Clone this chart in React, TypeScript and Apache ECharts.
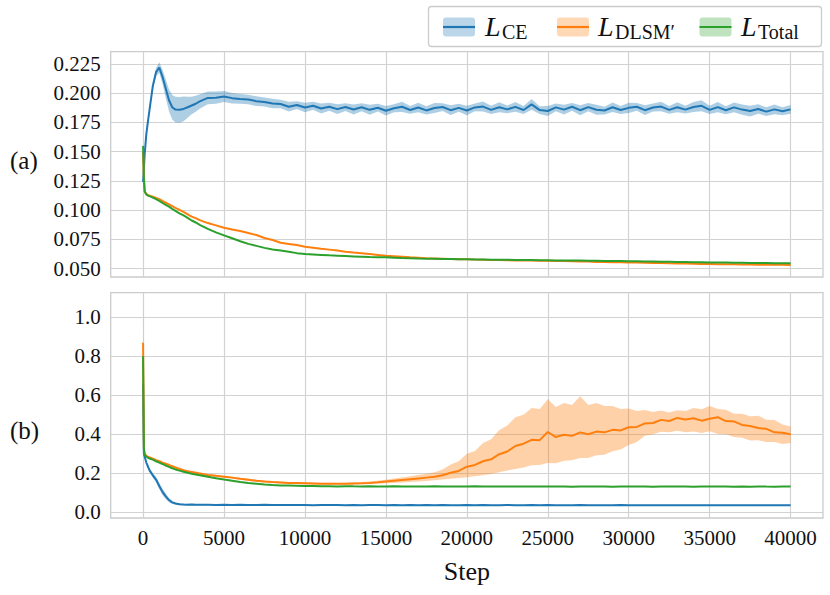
import React, { useEffect, useRef } from "react";
import * as echarts from "echarts";

// Training step of every sample
const STEPS = [
  0, 50, 100, 200, 300, 400, 600, 800, 1000, 1200,
  1400, 1600, 1800, 2000, 2250, 2500, 2750, 3000, 3250, 3500,
  3750, 4000, 4500, 5000, 5500, 6000, 6500, 7000, 7500, 8000,
  8500, 9000, 9500, 10000, 10500, 11000, 11500, 12000, 12500, 13000,
  13500, 14000, 14500, 15000, 15500, 16000, 16500, 17000, 17500, 18000,
  18500, 19000, 19500, 20000, 20500, 21000, 21500, 22000, 22500, 23000,
  23500, 24000, 24500, 25000, 25500, 26000, 26500, 27000, 27500, 28000,
  28500, 29000, 29500, 30000, 30500, 31000, 31500, 32000, 32500, 33000,
  33500, 34000, 34500, 35000, 35500, 36000, 36500, 37000, 37500, 38000,
  38500, 39000, 39500, 40000,
];

// (a) L_CE mean and half band width
const CE_TOP = [
  0.124, 0.135, 0.148, 0.165, 0.176, 0.186, 0.206, 0.218, 0.222, 0.214,
  0.204, 0.194, 0.188, 0.186, 0.1858, 0.1866, 0.188, 0.1895, 0.191, 0.193,
  0.1945, 0.196, 0.1962, 0.1972, 0.1958, 0.1951, 0.1946, 0.1932, 0.1925, 0.1912,
  0.1908, 0.1885, 0.1899, 0.1878, 0.1893, 0.187, 0.1885, 0.1864, 0.1882, 0.1861,
  0.188, 0.1858, 0.1876, 0.185, 0.1872, 0.1884, 0.1857, 0.1878, 0.1853, 0.1874,
  0.1882, 0.1855, 0.1875, 0.1852, 0.1879, 0.1886, 0.1858, 0.188, 0.1862, 0.1883,
  0.1857, 0.1905, 0.1856, 0.1848, 0.1879, 0.186, 0.1884, 0.1855, 0.1881, 0.1859,
  0.1852, 0.188, 0.1857, 0.1875, 0.1884, 0.1855, 0.1878, 0.1886, 0.1858, 0.188,
  0.186, 0.1882, 0.1892, 0.1858, 0.1881, 0.1855, 0.1879, 0.186, 0.1848, 0.1865,
  0.1843, 0.1862, 0.1846, 0.1862,
];
const CE_TOP_SPREAD = [
  0.002, 0.002, 0.002, 0.002, 0.0025, 0.003, 0.003, 0.0035, 0.0045, 0.006,
  0.008, 0.0095, 0.0105, 0.011, 0.011, 0.0105, 0.009, 0.0075, 0.0068, 0.0062,
  0.0058, 0.0055, 0.0052, 0.0048, 0.0045, 0.0042, 0.004, 0.0042, 0.0038, 0.004,
  0.0036, 0.0042, 0.0033, 0.004, 0.0035, 0.0043, 0.0034, 0.0041, 0.0033, 0.0042,
  0.0034, 0.0043, 0.0033, 0.0041, 0.0034, 0.0044, 0.0033, 0.0041, 0.0035, 0.0043,
  0.0033, 0.0042, 0.0034, 0.0041, 0.0033, 0.0043, 0.0035, 0.0042, 0.0033, 0.0041,
  0.0034, 0.0046, 0.0033, 0.0042, 0.0034, 0.0041, 0.0033, 0.0043, 0.0035, 0.0042,
  0.0033, 0.0041, 0.0034, 0.0043, 0.0033, 0.0042, 0.0035, 0.0041, 0.0033, 0.0043,
  0.0034, 0.0042, 0.0047, 0.0035, 0.0043, 0.0034, 0.0041, 0.0044, 0.0046, 0.004,
  0.0037, 0.0042, 0.0035, 0.0038,
];
// (a) L_DLSM' mean
const DLSM_TOP = [
  0.150, 0.128, 0.116, 0.114, 0.113, 0.1125, 0.1115, 0.1105, 0.1095, 0.108,
  0.1065, 0.105, 0.1035, 0.102, 0.1002, 0.0985, 0.0965, 0.0945, 0.0932, 0.0915,
  0.0902, 0.089, 0.087, 0.085, 0.0835, 0.0822, 0.0805, 0.0788, 0.0762, 0.0745,
  0.0722, 0.0712, 0.0702, 0.0688, 0.068, 0.067, 0.0663, 0.0655, 0.0645, 0.0638,
  0.0632, 0.0625, 0.0618, 0.061, 0.0606, 0.0602, 0.0597, 0.0594, 0.0589, 0.0587,
  0.0585, 0.0583, 0.0581, 0.058, 0.0578, 0.0577, 0.0575, 0.0574, 0.0572, 0.0571,
  0.057, 0.0569, 0.0568, 0.0568, 0.0566, 0.0565, 0.0564, 0.0562, 0.0561, 0.0558,
  0.0557, 0.0556, 0.0555, 0.0554, 0.0552, 0.0551, 0.0549, 0.0548, 0.0546, 0.0545,
  0.0544, 0.0542, 0.0541, 0.054, 0.0539, 0.0538, 0.0537, 0.0536, 0.0535, 0.0534,
  0.0535, 0.0533, 0.0534, 0.0532,
];
// (a) L_Total mean
const TOTAL_TOP = [
  0.155, 0.127, 0.116, 0.1135, 0.1125, 0.112, 0.1108, 0.1095, 0.108, 0.1062,
  0.1046, 0.103, 0.1012, 0.0995, 0.0973, 0.0955, 0.0935, 0.0912, 0.0895, 0.0875,
  0.0858, 0.084, 0.081, 0.0785, 0.076, 0.0735, 0.0712, 0.0695, 0.0678, 0.0665,
  0.0655, 0.0645, 0.0633, 0.0626, 0.0622, 0.0618, 0.0614, 0.0611, 0.0608, 0.0605,
  0.0602, 0.0599, 0.0598, 0.0597, 0.0594, 0.0591, 0.059, 0.0587, 0.0585, 0.0584,
  0.0583, 0.0582, 0.0581, 0.058, 0.0579, 0.0578, 0.0577, 0.0576, 0.0576, 0.0575,
  0.0574, 0.0574, 0.0573, 0.0572, 0.0571, 0.0571, 0.057, 0.0569, 0.0568, 0.0567,
  0.0566, 0.0566, 0.0565, 0.0564, 0.0563, 0.0562, 0.0561, 0.056, 0.0559, 0.0558,
  0.0557, 0.0556, 0.0555, 0.0554, 0.0553, 0.0552, 0.0551, 0.055, 0.0549, 0.0549,
  0.0548, 0.0547, 0.0546, 0.0546,
];

// (b) L_CE mean and (early) half band width
const CE_BOT = [
  0.66, 0.30, 0.285, 0.255, 0.235, 0.215, 0.19, 0.168, 0.135, 0.105,
  0.082, 0.063, 0.051, 0.045, 0.041, 0.040, 0.0395, 0.040, 0.0388, 0.0392,
  0.0385, 0.039, 0.0382, 0.0388, 0.0378, 0.0385, 0.0376, 0.0382, 0.0388, 0.0375,
  0.0381, 0.0372, 0.0379, 0.0375, 0.0368, 0.0376, 0.0372, 0.0378, 0.0369, 0.0374,
  0.0368, 0.0375, 0.0371, 0.0366, 0.0373, 0.0369, 0.0375, 0.0368, 0.0372, 0.0366,
  0.0374, 0.0369, 0.0365, 0.0371, 0.0367, 0.0373, 0.0366, 0.037, 0.0375, 0.0368,
  0.0364, 0.0371, 0.0367, 0.0373, 0.0362, 0.0368, 0.0365, 0.0371, 0.0366, 0.0363,
  0.0369, 0.0365, 0.0371, 0.0364, 0.0368, 0.0362, 0.0367, 0.0364, 0.037, 0.0365,
  0.0361, 0.0367, 0.0363, 0.0369, 0.0364, 0.036, 0.0366, 0.0362, 0.0368, 0.0363,
  0.0359, 0.0365, 0.0361, 0.0362,
];
const CE_BOT_SPREAD = [
  0.01, 0.012, 0.006, 0.006, 0.008, 0.01, 0.012, 0.014, 0.016, 0.016,
  0.014, 0.011, 0.007, 0.005, 0.004, 0.004, 0.004, 0.004, 0.004, 0.004,
  0.004, 0.004,
];
// (b) L_DLSM' mean, band low and band high
const DLSM_BOT = [
  0.87, 0.33, 0.30, 0.29, 0.285, 0.281, 0.275, 0.268, 0.262, 0.255,
  0.249, 0.243, 0.236, 0.23, 0.223, 0.216, 0.211, 0.207, 0.203, 0.199,
  0.195, 0.192, 0.187, 0.183, 0.178, 0.172, 0.167, 0.162, 0.158, 0.155,
  0.153, 0.151, 0.150, 0.149, 0.148, 0.147, 0.147, 0.146, 0.147, 0.148,
  0.149, 0.151, 0.154, 0.158, 0.162, 0.166, 0.17, 0.174, 0.178, 0.182,
  0.19, 0.203, 0.212, 0.234, 0.243, 0.262, 0.272, 0.298, 0.312, 0.34,
  0.352, 0.372, 0.37, 0.412, 0.386, 0.398, 0.392, 0.41, 0.4, 0.414,
  0.41, 0.423, 0.42, 0.436, 0.438, 0.456, 0.458, 0.474, 0.468, 0.484,
  0.476, 0.482, 0.47, 0.48, 0.488, 0.468, 0.466, 0.448, 0.443, 0.432,
  0.428, 0.41, 0.408, 0.40,
];
const DLSM_BOT_LO = [
  0.68, 0.31, 0.292, 0.284, 0.28, 0.276, 0.27, 0.263, 0.257, 0.25,
  0.244, 0.238, 0.231, 0.225, 0.218, 0.211, 0.206, 0.202, 0.198, 0.194,
  0.19, 0.187, 0.182, 0.178, 0.173, 0.167, 0.162, 0.157, 0.153, 0.15,
  0.148, 0.146, 0.145, 0.144, 0.143, 0.142, 0.142, 0.141, 0.142, 0.143,
  0.144, 0.145, 0.147, 0.149, 0.151, 0.153, 0.155, 0.158, 0.161, 0.165,
  0.168, 0.172, 0.176, 0.18, 0.185, 0.19, 0.197, 0.205, 0.215, 0.222,
  0.23, 0.241, 0.243, 0.253, 0.252, 0.265, 0.267, 0.278, 0.279, 0.293,
  0.295, 0.313, 0.322, 0.345, 0.36, 0.393, 0.4, 0.413, 0.41, 0.418,
  0.41, 0.415, 0.407, 0.416, 0.402, 0.4, 0.386, 0.382, 0.368, 0.37,
  0.36, 0.36, 0.35, 0.356,
];
const DLSM_BOT_HI = [
  1.07, 0.35, 0.308, 0.296, 0.29, 0.286, 0.28, 0.273, 0.267, 0.26,
  0.254, 0.248, 0.241, 0.235, 0.228, 0.221, 0.216, 0.212, 0.208, 0.204,
  0.2, 0.197, 0.192, 0.188, 0.183, 0.177, 0.172, 0.167, 0.163, 0.16,
  0.158, 0.156, 0.155, 0.154, 0.153, 0.152, 0.152, 0.151, 0.152, 0.153,
  0.155, 0.158, 0.162, 0.167, 0.173, 0.179, 0.185, 0.191, 0.198, 0.205,
  0.22, 0.245, 0.262, 0.3, 0.315, 0.356, 0.375, 0.422, 0.445, 0.488,
  0.5, 0.535, 0.53, 0.58, 0.54, 0.56, 0.55, 0.595, 0.55, 0.56,
  0.545, 0.545, 0.53, 0.532, 0.52, 0.525, 0.515, 0.522, 0.512, 0.524,
  0.52, 0.535, 0.528, 0.545, 0.53, 0.526, 0.505, 0.505, 0.492, 0.495,
  0.475, 0.473, 0.45, 0.44,
];
// (b) L_Total mean
const TOTAL_BOT = [
  0.80, 0.32, 0.295, 0.285, 0.28, 0.276, 0.27, 0.262, 0.255, 0.248,
  0.24, 0.233, 0.226, 0.22, 0.214, 0.208, 0.203, 0.198, 0.194, 0.19,
  0.186, 0.182, 0.175, 0.168, 0.162, 0.156, 0.151, 0.147, 0.143, 0.14,
  0.138, 0.137, 0.136, 0.135, 0.1345, 0.134, 0.1335, 0.133, 0.1338, 0.1332,
  0.1328, 0.1335, 0.133, 0.1325, 0.1334, 0.1328, 0.1322, 0.1331, 0.1326, 0.1333,
  0.1327, 0.1321, 0.133, 0.1325, 0.1332, 0.1326, 0.132, 0.1329, 0.1324, 0.1331,
  0.1325, 0.1319, 0.1328, 0.1323, 0.133, 0.1324, 0.1318, 0.1327, 0.1322, 0.1329,
  0.1323, 0.1317, 0.1326, 0.1321, 0.1328, 0.1322, 0.1316, 0.1325, 0.132, 0.1327,
  0.1321, 0.1315, 0.1324, 0.1319, 0.1326, 0.132, 0.1314, 0.1323, 0.1318, 0.1325,
  0.1319, 0.1316, 0.1322, 0.132,
];

const X_TICKS = [0, 5000, 10000, 15000, 20000, 25000, 30000, 35000, 40000];
const TOP_Y_TICKS = [0.05, 0.075, 0.1, 0.125, 0.15, 0.175, 0.2, 0.225];
const BOT_Y_TICKS = [0, 0.2, 0.4, 0.6, 0.8, 1.0];

const LEGEND = [
  { main: "L", sub: "CE", color: "#1f77b4" },
  { main: "L", sub: "DLSM\u2032", color: "#ff7f0e" },
  { main: "L", sub: "Total", color: "#2ca02c" },
];

const BLUE = "#1f77b4";
const ORANGE = "#ff7f0e";
const GREEN = "#2ca02c";
const SERIF = "Liberation Serif";
const GRID_COLOR = "#d2d2d2";

const pairs = (ys: number[]) => ys.map((y, i) => [STEPS[i], y]);

function band(lo: number[], hi: number[], color: string, axis: number) {
  const data = lo.map((l, i) => [STEPS[i], l, hi[i]]);
  return {
    type: "custom",
    xAxisIndex: axis,
    yAxisIndex: axis,
    silent: true,
    z: 1,
    data,
    encode: { x: 0, y: [1, 2] },
    renderItem: (params: any, api: any) => {
      if (params.dataIndex !== 0) return null;
      const pts: number[][] = [];
      for (let i = 0; i < data.length; i++) pts.push(api.coord([data[i][0], data[i][2]]));
      for (let i = data.length - 1; i >= 0; i--) pts.push(api.coord([data[i][0], data[i][1]]));
      return {
        type: "polygon",
        shape: { points: pts },
        style: { fill: color, opacity: 0.36 },
      };
    },
  };
}

function line(ys: number[], color: string, axis: number) {
  return {
    type: "line",
    xAxisIndex: axis,
    yAxisIndex: axis,
    data: pairs(ys),
    symbol: "none",
    showSymbol: false,
    z: 3,
    lineStyle: { color, width: 2 },
    itemStyle: { color },
  };
}

function xAxis(grid: number, labels: boolean) {
  return {
    type: "value",
    gridIndex: grid,
    min: -2000,
    max: 42000,
    axisLine: { show: false },
    axisTick: { show: false, customValues: X_TICKS },
    axisLabel: {
      show: labels,
      customValues: X_TICKS,
      formatter: (v: number) => String(v),
      fontFamily: SERIF,
      fontSize: 21,
      color: "#111",
      margin: 9,
    },
    splitLine: { show: true, lineStyle: { color: GRID_COLOR, width: 1.2 } },
    ...(labels
      ? {
          name: "Step",
          nameLocation: "middle",
          nameGap: 40,
          nameTextStyle: { fontFamily: SERIF, fontSize: 26, color: "#111" },
        }
      : {}),
  };
}

function yAxis(grid: number, min: number, max: number, ticks: number[], digits: number) {
  return {
    type: "value",
    gridIndex: grid,
    min,
    max,
    axisLine: { show: false },
    axisTick: { show: false, customValues: ticks },
    axisLabel: {
      customValues: ticks,
      formatter: (v: number) => v.toFixed(digits),
      fontFamily: SERIF,
      fontSize: 21,
      color: "#111",
      margin: 10,
    },
    splitLine: { show: true, lineStyle: { color: GRID_COLOR, width: 1.2 } },
  };
}

function legendGraphics() {
  const items: any[] = [
    {
      type: "rect",
      shape: { x: 428.5, y: 6.5, width: 393, height: 40, r: 3 },
      style: { fill: "#fff", stroke: "#cccccc", lineWidth: 1.3 },
      z: 20,
    },
  ];
  const patchX = [443, 557, 699.5];
  const textX = [485, 598, 741];
  LEGEND.forEach((e, i) => {
    items.push({
      type: "rect",
      shape: { x: patchX[i], y: 17.5, width: 32, height: 19, r: 3 },
      style: { fill: e.color, opacity: 0.3 },
      z: 21,
    });
    items.push({
      type: "line",
      shape: { x1: patchX[i], y1: 27, x2: patchX[i] + 32, y2: 27 },
      style: { stroke: e.color, lineWidth: 2.2 },
      z: 22,
    });
    items.push({
      type: "text",
      x: textX[i],
      y: 26.5,
      style: {
        text: e.main,
        fontFamily: SERIF,
        fontStyle: "italic",
        fontSize: 28,
        fill: "#111",
        verticalAlign: "middle",
      },
      z: 22,
    });
    items.push({
      type: "text",
      x: textX[i] + 17,
      y: 32,
      style: {
        text: e.sub,
        fontFamily: SERIF,
        fontStyle: "normal",
        fontSize: 20,
        fill: "#111",
        verticalAlign: "middle",
      },
      z: 22,
    });
  });
  items.push({
    type: "text",
    x: 10,
    y: 160,
    style: { text: "(a)", fontFamily: SERIF, fontStyle: "normal", fontSize: 25, fill: "#111", verticalAlign: "middle" },
  });
  items.push({
    type: "text",
    x: 10,
    y: 430.5,
    style: { text: "(b)", fontFamily: SERIF, fontStyle: "normal", fontSize: 25, fill: "#111", verticalAlign: "middle" },
  });
  return items;
}

export default function App() {
  const ref = useRef<HTMLDivElement>(null);

  useEffect(() => {
    if (!ref.current) return;
    const chart = echarts.init(ref.current, undefined, { renderer: "svg" });
    const ceTopLo = CE_TOP.map((v, i) => v - CE_TOP_SPREAD[i]);
    const ceTopHi = CE_TOP.map((v, i) => v + CE_TOP_SPREAD[i]);
    const ceBotLo = CE_BOT_SPREAD.map((s, i) => CE_BOT[i] - s);
    const ceBotHi = CE_BOT_SPREAD.map((s, i) => CE_BOT[i] + s);

    chart.setOption({
      animation: false,
      backgroundColor: "#fff",
      textStyle: { fontFamily: SERIF },
      grid: [
        {
          left: 110.7,
          top: 51.7,
          width: 712.3,
          height: 225.3,
          show: true,
          borderColor: "#cccccc",
          borderWidth: 1.3,
          backgroundColor: "transparent",
        },
        {
          left: 110.7,
          top: 292.7,
          width: 712.3,
          height: 225.3,
          show: true,
          borderColor: "#cccccc",
          borderWidth: 1.3,
          backgroundColor: "transparent",
        },
      ],
      xAxis: [xAxis(0, false), xAxis(1, true)],
      yAxis: [
        yAxis(0, 0.0429, 0.2355, TOP_Y_TICKS, 3),
        yAxis(1, -0.029, 1.126, BOT_Y_TICKS, 1),
      ],
      series: [
        band(ceTopLo, ceTopHi, BLUE, 0),
        line(CE_TOP, BLUE, 0),
        line(DLSM_TOP, ORANGE, 0),
        line(TOTAL_TOP, GREEN, 0),
        band(ceBotLo, ceBotHi, BLUE, 1),
        line(CE_BOT, BLUE, 1),
        band(DLSM_BOT_LO, DLSM_BOT_HI, ORANGE, 1),
        line(DLSM_BOT, ORANGE, 1),
        line(TOTAL_BOT, GREEN, 1),
      ],
      graphic: legendGraphics(),
    });
    return () => chart.dispose();
  }, []);

  return (
    <div
      ref={ref}
      style={{ position: "fixed", left: 0, top: 0, width: 830, height: 595, background: "#fff" }}
    />
  );
}
